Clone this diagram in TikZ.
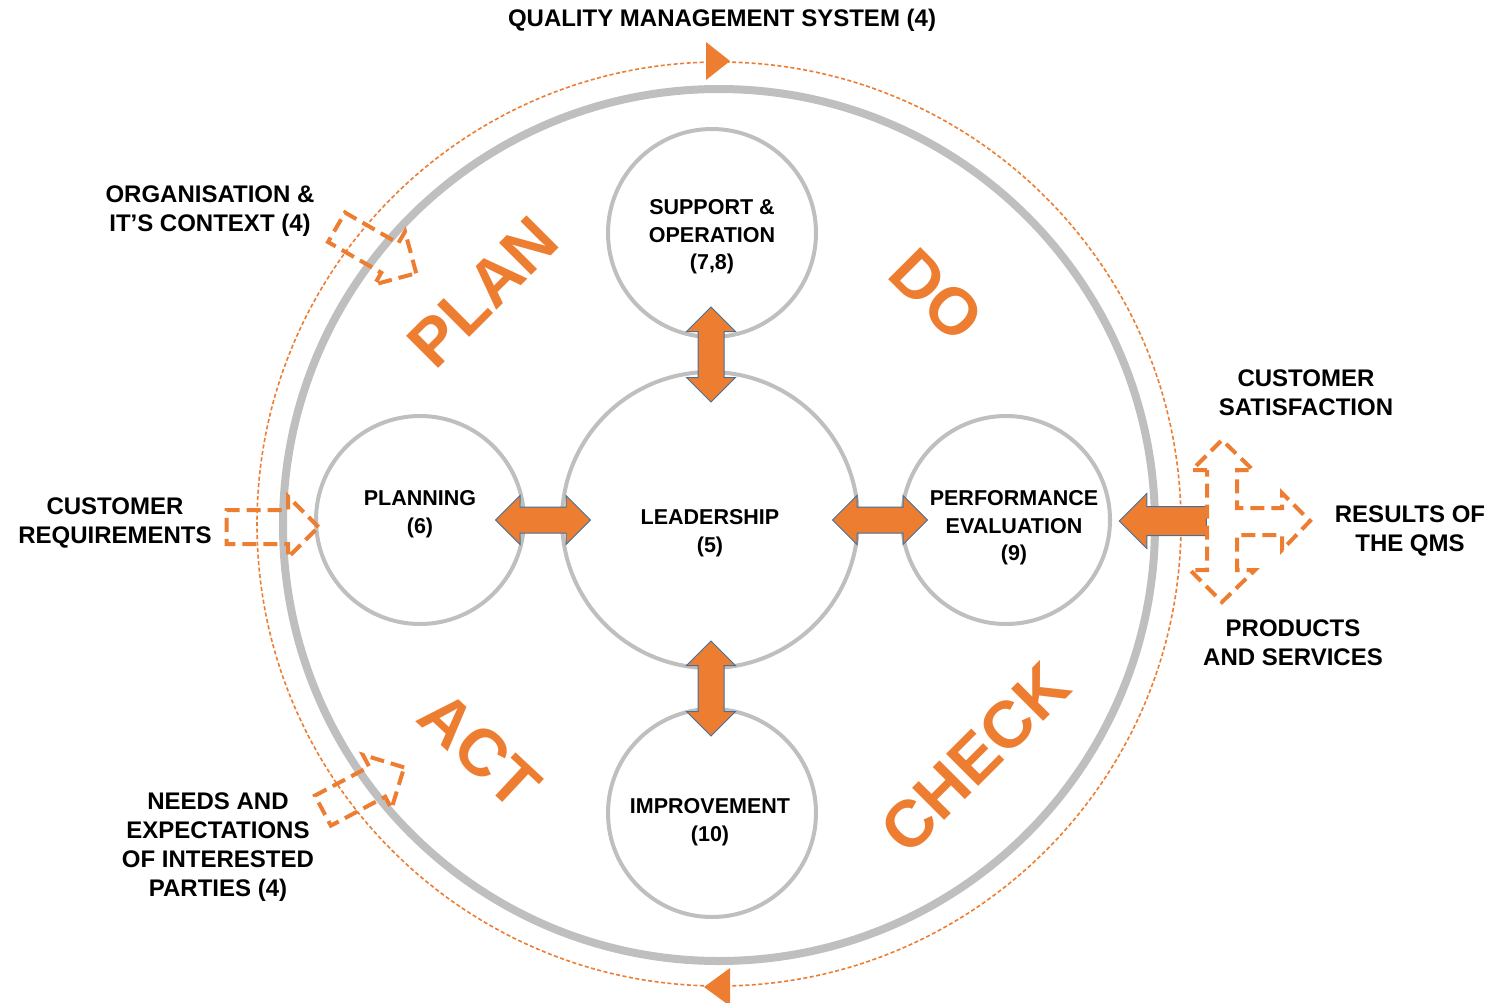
\documentclass[tikz,border=0pt]{standalone}
\usepackage{fontspec}
\setmainfont{Liberation Sans}
\usetikzlibrary{shapes.arrows,calc}

\definecolor{qmsorange}{HTML}{ED7D31}
\definecolor{qmsgray}{HTML}{BFBFBF}
\definecolor{qmsblue}{HTML}{41719C}

\begin{document}
\begin{tikzpicture}[x=1pt,y=-1pt]
\tikzset{clause/.style = {shape=circle,draw=qmsgray,line width=4pt,inner sep=0pt}}
\tikzset{intext/.style = {align=center,font=\bfseries\fontsize{21.5}{27.5}\selectfont}}
\tikzset{outtext/.style = {align=center,font=\bfseries\fontsize{24}{29}\selectfont}}
\tikzset{pdca/.style = {text=qmsorange,inner sep=0pt,font=\bfseries\fontsize{66}{70}\selectfont}}
\tikzset{twoway/.style = {shape=double arrow,fill=qmsorange,draw=qmsblue,line width=1pt,
  inner sep=12.5pt,double arrow head extend=11.5pt,minimum height=95pt}}
\tikzset{inflow/.style = {shape=single arrow,draw=qmsorange,line width=4pt,dash pattern=on 14pt off 7pt,
  inner sep=15pt,single arrow head extend=13.5pt,minimum height=92pt}}
\useasboundingbox (0,0) rectangle (1493,1002);
% outer ring
\node[clause,line width=8pt,minimum size=872pt] (qms) at (719,525) {};
\draw[qmsorange,line width=1.6pt,dash pattern=on 4pt off 2.5pt] (719,524) circle (462);
\fill[qmsorange] (706,42) -- (730,61) -- (706,80) -- cycle;
\fill[qmsorange] (730,968) -- (704,987) -- (730,1006) -- cycle;
% clauses
\node[clause,minimum size=296pt] (lead) at (710,520) {};
\node[clause,minimum size=208pt] (supp) at (712,233) {};
\node[clause,minimum size=208pt] (impr) at (712,813) {};
\node[clause,minimum size=208pt] (plan) at (420,520) {};
\node[clause,minimum size=208pt] (perf) at (1006,520) {};
\node[intext] (leadtext) at ($(lead)+(0,13)$) {LEADERSHIP\\(5)};
\node[intext] (supptext) at ($(supp)+(0,4)$) {SUPPORT \&\\OPERATION\\(7,8)};
\node[intext] (imprtext) at ($(impr)+(-2,9)$) {IMPROVEMENT\\(10)};
\node[intext] (plantext) at ($(plan)+(0,-6)$) {PLANNING\\(6)};
\node[intext] (perftext) at ($(perf)+(8,8)$) {PERFORMANCE\\EVALUATION\\(9)};
% PDCA
\node[pdca,rotate=45] (plantxt) at (483,292) {PLAN};
\node[pdca,rotate=-45] (dotxt) at (937,295) {DO};
\node[pdca,rotate=-43] (acttxt) at (480,750) {ACT};
\node[pdca,rotate=45] (checktxt) at (975,758) {CHECK};
% block arrows
\node[twoway,rotate=90] (a1) at ($(supp.south)!0.5!(lead.north)$) {};
\node[twoway,rotate=90] (a2) at ($(lead.south)!0.5!(impr.north)$) {};
\node[twoway] (a3) at ($(plan.east)!0.5!(lead.west)$) {};
\node[twoway] (a4) at ($(lead.east)!0.5!(perf.west)$) {};
\node[shape=single arrow,fill=qmsorange,draw=qmsblue,line width=1pt,inner sep=14pt,
  single arrow head extend=13pt,minimum height=87pt,rotate=180] (a5) at ($(perf.east)+(58,1)$) {};
% inputs
\node[inflow] (in1) at (264,527) {};
\node[inflow,rotate=-30] (in2) at (369,246) {};
\node[inflow,rotate=28] (in3) at (356,793) {};
% outputs
\draw[qmsorange,line width=4pt,dash pattern=on 14pt off 7pt]
  (1207,470) -- (1192,470) -- (1222,440) -- (1253,470) -- (1237,470) -- (1237,508)
  -- (1282,508) -- (1282,493) -- (1310,521) -- (1282,550) -- (1282,535) -- (1237,535)
  -- (1237,570) -- (1255,570) -- (1222,602) -- (1190,570) -- (1207,570) -- cycle;
% labels
\node[outtext] (qmslabel) at (722,20) {QUALITY MANAGEMENT SYSTEM (4)};
\node[outtext] (context) at (210,211) {ORGANISATION \&\\IT’S CONTEXT (4)};
\node[outtext] (custreq) at (115,523) {CUSTOMER\\REQUIREMENTS};
\node[outtext] (needs) at (218,847) {NEEDS AND\\EXPECTATIONS\\OF INTERESTED\\PARTIES (4)};
\node[outtext] (custsat) at (1306,393) {CUSTOMER\\SATISFACTION};
\node[outtext] (results) at (1410,531) {RESULTS OF\\THE QMS};
\node[outtext] (products) at (1293,643) {PRODUCTS\\AND SERVICES};
\end{tikzpicture}
\end{document}
